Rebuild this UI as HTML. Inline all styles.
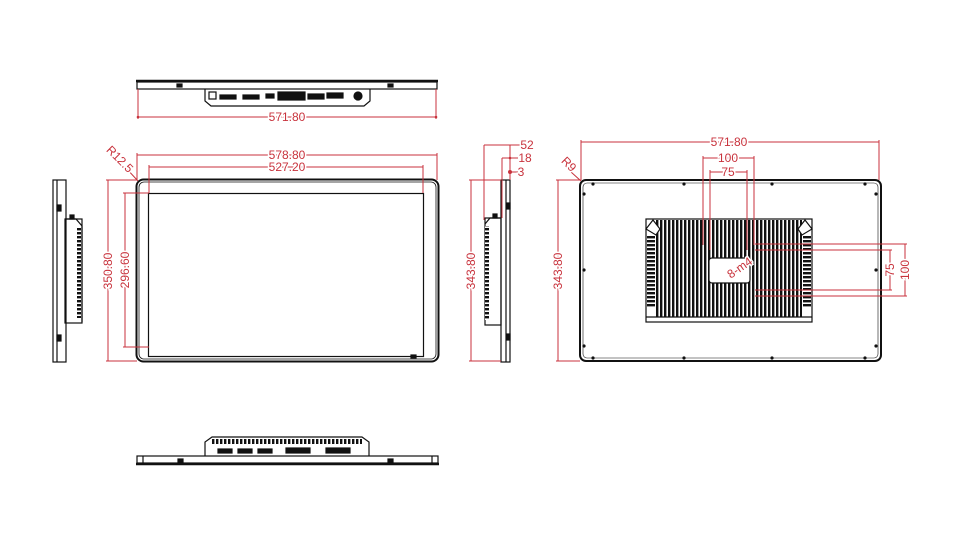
<!DOCTYPE html>
<html><head><meta charset="utf-8"><style>
html,body{margin:0;padding:0;background:#fff;}
svg{display:block;}
text{font-family:"Liberation Sans",sans-serif;fill:#c8323c;font-size:12px;stroke:#fff;stroke-width:3px;paint-order:stroke;}
</style></head><body>
<svg width="972" height="537" viewBox="0 0 972 537" xmlns="http://www.w3.org/2000/svg">
<defs>
<pattern id="fins" width="4" height="4" patternUnits="userSpaceOnUse"><rect width="4" height="4" fill="#fff"/><rect width="2.4" height="4" fill="#111"/></pattern>
<pattern id="vent" width="4" height="4" patternUnits="userSpaceOnUse"><rect width="4" height="4" fill="#fff"/><rect width="4" height="2.4" fill="#111"/></pattern>
</defs>
<g stroke="#111" fill="none" stroke-width="1.2">
<line x1="136" y1="81" x2="438" y2="81" stroke-width="2.5"/>
<rect x="137" y="82" width="300" height="7"/>
<path d="M205 89 L205 101 L211 106 L364 106 L370 101 L370 89"/>
<rect x="209" y="92" width="7" height="7"/>
<rect x="220" y="95" width="16" height="4" fill="#111"/><rect x="243" y="95" width="16" height="4" fill="#111"/>
<rect x="266" y="94" width="8" height="4" fill="#111"/><rect x="278" y="92" width="27" height="8" fill="#111"/>
<rect x="308" y="94" width="16" height="5" fill="#111"/><rect x="327" y="93" width="16" height="5" fill="#111"/>
<circle cx="358" cy="96" r="4" fill="#111"/>
<rect x="177" y="84" width="5" height="3" fill="#111"/><rect x="388" y="84" width="5" height="3" fill="#111"/>
<rect x="136.5" y="179.5" width="302" height="182" rx="7" stroke-width="2"/>
<rect x="139" y="182" width="297" height="177" rx="5" stroke-width="0.8"/>
<rect x="148.5" y="193.5" width="275" height="163"/>
<rect x="411" y="355" width="5" height="3" fill="#111"/>
<rect x="53" y="180" width="13" height="182"/>
<line x1="57" y1="180" x2="57" y2="362"/>
<rect x="65" y="219" width="17" height="104"/>
<path d="M65 219 L76 219 L82 226 L82 322"/>
<rect x="77" y="228" width="4" height="90" fill="url(#vent)" stroke="none"/>
<rect x="57" y="205" width="4" height="6" fill="#111"/><rect x="57" y="335" width="4" height="6" fill="#111"/>
<rect x="70" y="215" width="4" height="4" fill="#111"/>
<rect x="501" y="180" width="9" height="182"/>
<line x1="506" y1="180" x2="506" y2="362"/>
<rect x="485" y="218" width="16" height="107"/>
<path d="M501 218 L490 218 L485 224"/>
<rect x="485" y="226" width="4" height="94" fill="url(#vent)" stroke="none"/>
<rect x="507" y="203" width="3" height="6" fill="#111"/><rect x="507" y="334" width="3" height="6" fill="#111"/>
<rect x="493" y="214" width="4" height="4" fill="#111"/>
<rect x="580" y="180" width="301" height="181" rx="6" stroke-width="2"/>
<rect x="583" y="183" width="295" height="175" rx="4" stroke-width="0.6"/>
<g fill="#111" stroke="none">
<circle cx="593" cy="184" r="1.6"/><circle cx="684" cy="184" r="1.6"/><circle cx="772" cy="184" r="1.6"/><circle cx="865" cy="184" r="1.6"/>
<circle cx="593" cy="358" r="1.6"/><circle cx="684" cy="358" r="1.6"/><circle cx="772" cy="358" r="1.6"/><circle cx="865" cy="358" r="1.6"/>
<circle cx="584" cy="194" r="1.6"/><circle cx="584" cy="270" r="1.6"/><circle cx="584" cy="346" r="1.6"/>
<circle cx="876" cy="194" r="1.6"/><circle cx="876" cy="270" r="1.6"/><circle cx="876" cy="346" r="1.6"/>
</g>
<rect x="646" y="219" width="166" height="103"/>
<rect x="656" y="220" width="146" height="97" fill="url(#fins)" stroke="none"/>
<rect x="647" y="235" width="8" height="72" fill="url(#vent)" stroke="none"/>
<rect x="803" y="235" width="8" height="72" fill="url(#vent)" stroke="none"/>
<path d="M646 229 L653 220 L660 229 L656 235 Z" fill="#fff"/>
<path d="M812 229 L805 220 L798 229 L802 235 Z" fill="#fff"/>
<rect x="709" y="258" width="41" height="25" rx="3" fill="#fff"/>
<line x1="646" y1="317" x2="812" y2="317"/>
</g>
<g stroke="#c8323c" fill="none" stroke-width="1">
<line x1="138" y1="117" x2="436" y2="117"/><line x1="138" y1="89" x2="138" y2="119"/><line x1="436" y1="89" x2="436" y2="119"/>
<line x1="137" y1="155" x2="437" y2="155"/><line x1="137" y1="153" x2="137" y2="180"/><line x1="437" y1="153" x2="437" y2="180"/>
<line x1="149" y1="167" x2="423" y2="167"/><line x1="149" y1="165" x2="149" y2="193"/><line x1="423" y1="165" x2="423" y2="193"/>
<line x1="108" y1="180" x2="108" y2="361"/><line x1="106" y1="180" x2="137" y2="180"/><line x1="106" y1="361" x2="137" y2="361"/>
<line x1="125" y1="193" x2="125" y2="347"/><line x1="123" y1="193" x2="149" y2="193"/><line x1="123" y1="347" x2="149" y2="347"/>
<line x1="126" y1="168" x2="138" y2="181"/>
<line x1="484" y1="145" x2="522" y2="145"/><line x1="484" y1="145" x2="484" y2="220"/>
<line x1="502" y1="158" x2="518" y2="158"/><line x1="502" y1="158" x2="502" y2="218"/>
<line x1="510" y1="145" x2="510" y2="180"/><line x1="510" y1="172" x2="518" y2="172"/>
<line x1="471" y1="180" x2="471" y2="361"/><line x1="469" y1="180" x2="501" y2="180"/><line x1="469" y1="361" x2="501" y2="361"/>
<line x1="581" y1="142" x2="879" y2="142"/><line x1="581" y1="140" x2="581" y2="180"/><line x1="879" y1="140" x2="879" y2="180"/>
<line x1="558" y1="180" x2="558" y2="361"/><line x1="556" y1="180" x2="580" y2="180"/><line x1="556" y1="361" x2="580" y2="361"/>
<line x1="571" y1="172" x2="581" y2="181"/>
<line x1="703" y1="158" x2="754" y2="158"/><line x1="703" y1="156" x2="703" y2="245"/><line x1="754" y1="156" x2="754" y2="245"/>
<line x1="710" y1="172" x2="747" y2="172"/><line x1="710" y1="170" x2="710" y2="250"/><line x1="747" y1="170" x2="747" y2="250"/>
<line x1="755" y1="244" x2="907" y2="244"/><line x1="755" y1="296" x2="907" y2="296"/>
<line x1="755" y1="250" x2="892" y2="250"/><line x1="755" y1="290" x2="892" y2="290"/>
<line x1="905" y1="244" x2="905" y2="296"/><line x1="890" y1="250" x2="890" y2="290"/>
<line x1="733" y1="275" x2="752" y2="262"/>
</g>
<g fill="#c8323c">
<circle cx="138" cy="117" r="1.3"/><circle cx="436" cy="117" r="1.3"/><circle cx="510" cy="172" r="2"/><circle cx="510" cy="158" r="1.3"/>
</g>
<g text-anchor="middle">
<text x="287" y="121">571.80</text>
<text x="287" y="159">578.80</text>
<text x="287" y="171">527.20</text>
<text x="729" y="146">571.80</text>
<text x="728" y="162">100</text>
<text x="728" y="176">75</text>
<text x="527" y="149">52</text>
<text x="525" y="162">18</text>
<text x="521" y="176">3</text>
<text transform="translate(112,271) rotate(-90)">350.80</text>
<text transform="translate(129,270) rotate(-90)">296.60</text>
<text transform="translate(475,271) rotate(-90)">343.80</text>
<text transform="translate(562,271) rotate(-90)">343.80</text>
<text transform="translate(894,270) rotate(-90)">75</text>
<text transform="translate(909,270) rotate(-90)">100</text>
<text transform="translate(117,162) rotate(45)">R12.5</text>
<text transform="translate(566,167) rotate(45)">R9</text>
<text transform="translate(742,271) rotate(-35)">8-m4</text>
</g>
<g stroke="#111" fill="none" stroke-width="1.2">
<rect x="137" y="456" width="301" height="7"/>
<line x1="136" y1="464" x2="439" y2="464" stroke-width="2.5"/>
<line x1="432" y1="456" x2="432" y2="463"/><line x1="143" y1="456" x2="143" y2="463"/>
<path d="M205 456 L205 442 L212 437 L362 437 L369 442 L369 456"/>
<rect x="212" y="439" width="150" height="5" fill="url(#fins)" stroke="none"/>
<rect x="218" y="449" width="14" height="4" fill="#111"/><rect x="238" y="449" width="14" height="4" fill="#111"/><rect x="258" y="449" width="14" height="4" fill="#111"/>
<rect x="286" y="448" width="24" height="5" fill="#111"/><rect x="326" y="448" width="24" height="5" fill="#111"/>
<rect x="178" y="459" width="5" height="3" fill="#111"/><rect x="388" y="459" width="5" height="3" fill="#111"/>
</g>
</svg>
</body></html>
